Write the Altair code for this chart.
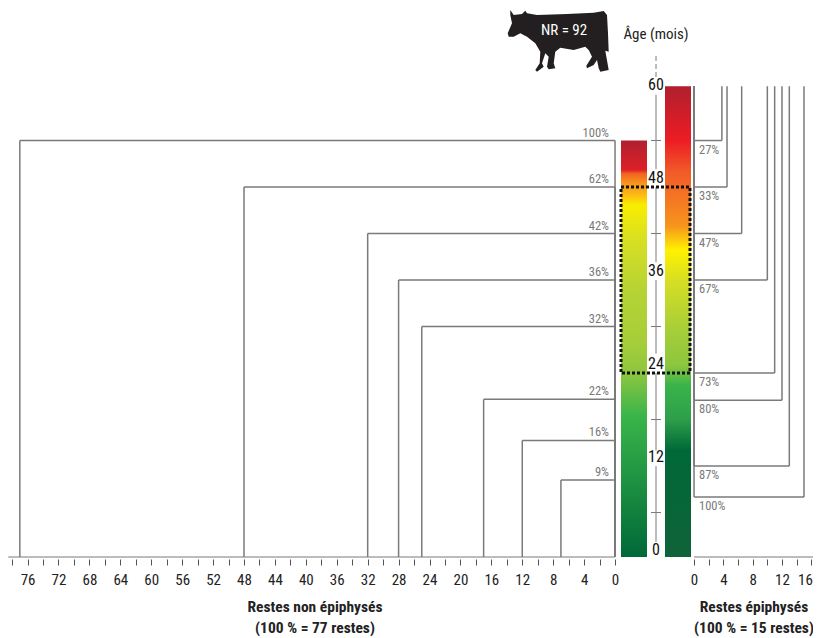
import altair as alt
import pandas as pd

FONT = "Roboto Condensed"
GREY = "#7a7a7a"

# non-epiphysed (left): count of remains, age in months, percentage label
left_counts = [77, 48, 32, 28, 25, 17, 12, 7]
left_ages = [54, 48, 42, 36, 30, 20.6, 15.3, 10.2]
left_pct = ["100%", "62%", "42%", "36%", "32%", "22%", "16%", "9%"]

# epiphysed (right)
right_counts = [3.8, 4.5, 6.5, 10, 11, 12, 13, 15]
right_ages = [54, 48, 42, 36, 24, 20.5, 12, 8]
right_pct = ["27%", "33%", "47%", "67%", "73%", "80%", "87%", "100%"]

# central age axis
age_labels = [0, 12, 24, 36, 48, 60]
age_ticks = [6, 18, 30, 42, 54]
age_seg_start = [2.2, 14, 26.5, 38.3, 50.3]
age_seg_end = [12, 24, 36, 48, 59.9]

# colour bands: age -> colour
left_top = 54
left_stops_age = [54, 50.2, 49.7, 48.5, 47, 45.7, 41, 34.5, 28, 24, 18.4, 0.26]
left_stops_col = ["#b1202f", "#dc2028", "#f26522", "#f7941d", "#fdb913", "#f9ed00",
                  "#d7df23", "#b5d334", "#a6ce39", "#8dc63f", "#39b54a", "#006838"]
right_top = 61
right_stops_age = [61, 54, 50, 43, 39.8, 36, 29.5, 25, 22.5, 18, 14, 0.26]
right_stops_col = ["#b01f2e", "#ed1c24", "#f15a29", "#f7941d", "#fff200", "#d7df23",
                   "#a6ce39", "#8dc63f", "#39b54a", "#2e9e4a", "#006838", "#0f6338"]

Y_BOTTOM = 0.26
W, H = 805, 549
y_scale = alt.Scale(domain=[Y_BOTTOM, 71.1], nice=False, zero=False)
x_left = alt.Scale(domain=[78.53, -25.61], nice=False, zero=False)
x_right = alt.Scale(domain=[-93.59, 16.23], nice=False, zero=False)

left_df = pd.DataFrame({"n": left_counts, "age": left_ages, "pct": left_pct, "zero": 0, "bottom": Y_BOTTOM})
right_df = pd.DataFrame({"n": right_counts, "age": right_ages, "pct": right_pct, "zero": 0, "top": right_top})


def Y(f):
    return alt.Y(f, type="quantitative", scale=y_scale, axis=None)


one = alt.Data(values=[{"a": 1}])

line = dict(color=GREY, strokeWidth=1.5)

# left block
l_axis = alt.Axis(values=list(range(0, 79, 2)), labelExpr="datum.value % 4 === 0 ? datum.label : ''",
                  orient="bottom", domain=False, grid=False, title=None, tickSize=6, offset=2,
                  tickColor="#555", labelFont=FONT, labelFontSize=15, labelColor="#222",
                  labelPadding=7, labelOverlap=False, labelFlush=False)
r_axis = alt.Axis(values=list(range(0, 17, 2)), labelExpr="datum.value % 4 === 0 ? datum.label : ''",
                  orient="bottom", domain=False, grid=False, title=None, tickSize=6, offset=2,
                  tickColor="#555", labelFont=FONT, labelFontSize=15, labelColor="#222",
                  labelPadding=7, labelOverlap=False, labelFlush=3, labelFlushOffset=1)

left_block = alt.layer(
    alt.Chart(left_df).mark_rule(**line).encode(
        x=alt.X("n:Q", scale=x_left, axis=l_axis), x2="zero:Q", y=Y("age")),
    alt.Chart(left_df).mark_rule(**line).encode(
        x=alt.X("n:Q", scale=x_left, axis=l_axis), y=Y("age"), y2="bottom:Q"),
    alt.Chart(left_df).mark_rule(**line).encode(
        x=alt.X("zero:Q", scale=x_left, axis=l_axis), y=Y("age"), y2="bottom:Q"),
    alt.Chart(pd.DataFrame({"a": [78.5], "b": [0], "y": [Y_BOTTOM]})).mark_rule(color=GREY, strokeWidth=1.2).encode(
        x=alt.X("a:Q", scale=x_left, axis=l_axis), x2="b:Q", y=Y("y")),
    alt.Chart(left_df).mark_text(align="right", dx=-6, dy=-8, font=FONT, fontSize=12.5, color=GREY).encode(
        x=alt.X("zero:Q", scale=x_left, axis=l_axis), y=Y("age"), text="pct:N"),
)

right_block = alt.layer(
    alt.Chart(right_df).mark_rule(**line).encode(
        x=alt.X("n:Q", scale=x_right, axis=r_axis), x2="zero:Q", y=Y("age")),
    alt.Chart(right_df).mark_rule(**line).encode(
        x=alt.X("n:Q", scale=x_right, axis=r_axis), y=Y("age"), y2="top:Q"),
    alt.Chart(right_df).mark_rule(**line).encode(
        x=alt.X("zero:Q", scale=x_right, axis=r_axis), y=Y("age"), y2="top:Q"),
    alt.Chart(pd.DataFrame({"a": [0], "b": [16.23], "y": [Y_BOTTOM]})).mark_rule(color=GREY, strokeWidth=1.2).encode(
        x=alt.X("a:Q", scale=x_right, axis=r_axis), x2="b:Q", y=Y("y")),
    alt.Chart(right_df).mark_text(align="left", dx=5, dy=9, font=FONT, fontSize=12.5, color=GREY).encode(
        x=alt.X("zero:Q", scale=x_right, axis=r_axis), y=Y("age"), text="pct:N"),
)


def gradient(ages, cols, top):
    return alt.Gradient(
        gradient="linear", x1=0, x2=0, y1=0, y2=1,
        stops=[alt.GradientStop(color=c, offset=(top - a) / (top - Y_BOTTOM)) for a, c in zip(ages, cols)],
    )


band_l = alt.Chart(pd.DataFrame({"t": [left_top], "b": [Y_BOTTOM]})).mark_rect(
    color=gradient(left_stops_age, left_stops_col, left_top)
).encode(x=alt.value(613), x2=alt.value(639), y=Y("t"), y2="b:Q")

band_r = alt.Chart(pd.DataFrame({"t": [right_top], "b": [Y_BOTTOM]})).mark_rect(
    color=gradient(right_stops_age, right_stops_col, right_top)
).encode(x=alt.value(657), x2=alt.value(683), y=Y("t"), y2="b:Q")

age_line = alt.Chart(pd.DataFrame({"a": age_seg_start, "b": age_seg_end})).mark_rule(color=GREY, strokeWidth=1).encode(
    x=alt.value(648), y=Y("a"), y2="b:Q")

age_dash = alt.Chart(pd.DataFrame({"a": [62.2], "b": [65.3]})).mark_rule(
    color=GREY, strokeWidth=1, strokeDash=[5, 3]).encode(x=alt.value(648), y=Y("a"), y2="b:Q")

age_tick = alt.Chart(pd.DataFrame({"a": age_ticks})).mark_rule(color=GREY, strokeWidth=1).encode(
    x=alt.value(643), x2=alt.value(653), y=Y("a"))

age_text = alt.Chart(pd.DataFrame({"a": age_labels})).mark_text(
    font=FONT, fontSize=16, color="#111", dy=-9).encode(x=alt.value(648), y=Y("a"), text="a:Q")

box = alt.Chart(pd.DataFrame({"t": [48], "b": [24]})).mark_rect(
    filled=False, stroke="#111", strokeWidth=3, strokeDash=[3, 2], fillOpacity=0
).encode(x=alt.value(613), x2=alt.value(682), y=Y("t"), y2="b:Q")

# cow silhouette, outline
cow_outline = [(90, 30), (100, 45), (125, 42), (135, 32), (140, 40), (170, 45), (260, 42), (340, 38), (370, 33),
               (380, 45), (383, 100), (385, 155), (375, 152), (385, 210), (360, 215), (355, 205), (350, 180),
               (340, 195), (320, 205), (318, 197), (335, 170), (325, 150), (315, 140), (280, 150), (240, 143),
               (225, 155), (220, 190), (225, 205), (205, 208), (200, 200), (205, 170), (195, 160), (185, 190),
               (190, 200), (170, 215), (165, 210), (178, 190), (180, 155), (165, 130), (140, 110), (120, 100),
               (100, 110), (85, 110), (82, 100), (95, 70), (90, 45)]
cow_path = "M" + "L".join(f"{(x - 233) / 3:.1f},{(y - 123) / 3:.1f}" for x, y in cow_outline) + "Z"

cow = alt.Chart(one).mark_point(shape=cow_path, size=4, filled=True, color="#231f20", opacity=1).encode(
    x=alt.value(550), y=alt.value(33))

nr = alt.Chart(one).mark_text(text="NR = 92", font=FONT, fontSize=15, color="#fff").encode(
    x=alt.value(556), y=alt.value(22))

age_title = alt.Chart(one).mark_text(text="Âge (mois)", font=FONT, fontSize=15, color="#222").encode(
    x=alt.value(648), y=alt.value(26))

title_l = alt.Chart(one).mark_text(text="Restes non épiphysés\n(100 % = 77 restes)", lineBreak="\n", lineHeight=21,
                                   font=FONT, fontSize=15.5, fontWeight="bold", color="#222").encode(
    x=alt.value(307), y=alt.value(599))

title_r = alt.Chart(one).mark_text(text="Restes épiphysés\n(100 % = 15 restes)", lineBreak="\n", lineHeight=21,
                                   font=FONT, fontSize=15.5, fontWeight="bold", color="#222").encode(
    x=alt.value(746), y=alt.value(599))

chart = alt.layer(
    left_block, right_block, band_l, band_r, age_line, age_dash, age_tick, age_text, box,
    cow, nr, age_title, title_l, title_r,
).resolve_scale(x="independent").properties(
    width=W, height=H, autosize=alt.AutoSizeParams(type="none"),
    padding={"left": 0, "top": 0, "right": 0, "bottom": 81},
).configure_view(stroke=None)

chart.save("out.html", embed_options={"renderer": "svg", "actions": False})
